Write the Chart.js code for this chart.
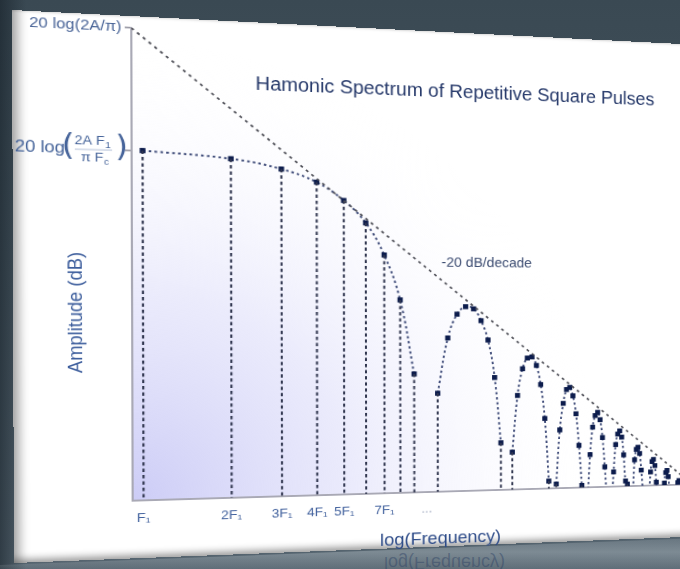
<!DOCTYPE html>
<html>
<head>
<meta charset="utf-8">
<script src="https://cdn.jsdelivr.net/npm/chart.js@4.4.1/dist/chart.umd.min.js"></script>
<style>
html,body{margin:0;padding:0;}
body{width:680px;height:569px;overflow:hidden;position:relative;
 background:
  linear-gradient(90deg, rgba(18,28,36,0.55) 0px, rgba(18,28,36,0) 26px),
  linear-gradient(180deg,#3a4953 0%,#45545e 45%,#566570 100%);
 font-family:"Liberation Sans",Arial,sans-serif;}
#underlay{position:absolute;left:0;top:0;width:680px;height:569px;background:#fff;
 clip-path:polygon(24px 18px,690px 52px,690px 526px,24px 552px);}
#reflBand{position:absolute;left:0;top:0;width:680px;height:569px;
 background:linear-gradient(180deg,rgba(200,210,216,0) 525px,rgba(200,210,216,0.35) 552px,rgba(200,210,216,0.08) 569px);
 clip-path:polygon(0px 565px,700px 538px,700px 569px,0px 569px);}
#reflText{position:absolute;left:384px;top:553px;font-size:18px;line-height:20px;color:rgba(45,65,100,0.45);transform:scaleY(-1);white-space:nowrap;}
#panel{position:absolute;left:0;top:0;width:688px;height:553px;transform-origin:0 0;background:#fff;
 box-shadow: inset 11px 0 9px -5px rgba(0,0,0,0.30), inset 0 -7px 7px -3px rgba(0,0,0,0.35), inset 0 2px 2px -1px rgba(0,0,0,0.12);}
#chart{position:absolute;left:0;top:0;}
.lbl{position:absolute;white-space:nowrap;text-align:center;}
#title{left:131px;width:600px;top:51px;line-height:24px;font-size:19.5px;color:#26396a;}
#slope{left:357px;width:200px;top:238px;line-height:18px;font-size:14.5px;color:#3d4d72;}
#xtitle{left:309px;width:200px;top:533px;line-height:22px;font-size:18.5px;color:#2d4b88;}
#ytitle{left:-44px;width:200px;top:291px;line-height:22px;font-size:18.5px;color:#3c5d9c;transform:rotate(-90deg);}
</style>
</head>
<body>
<div id="underlay"></div>
<div id="reflBand"></div>
<div id="reflText">log(Frequency)</div>
<div id="panel">
  <canvas id="chart" width="688" height="553"></canvas>
  <div class="lbl" id="title">Hamonic Spectrum of Repetitive Square Pulses</div>
  <div class="lbl" id="slope">-20 dB/decade</div>
  <div class="lbl" id="ytitle">Amplitude (dB)</div>
  <div class="lbl" id="xtitle">log(Frequency)</div>
</div>
<script>
// ---------------- data ----------------
// harmonic number of the first point of each lobe (multiples of F1)
const lobeStart = [1, 11, 21, 31, 41, 51, 61, 71, 81, 91];
// amplitude in dB relative to 20 log(2A/pi); values below the axis are hidden
const lobe1dB  = [-10.7, -11.2, -12.0, -13.1, -14.7, -16.7, -19.6, -23.7, -30.5];
const lobe2dB  = [-32.3, -27.2, -25.0, -24.3, -24.5, -25.6, -27.4, -30.9, -37.0];
const lobe3dB  = [-37.9, -32.6, -30.1, -29.1, -29.0, -29.8, -31.6, -34.8, -40.7];
const lobe4dB  = [-41.0, -35.9, -33.4, -32.1, -31.9, -32.7, -34.4, -37.4, -41.2];
const lobe5dB  = [-43.0, -38.3, -35.7, -34.6, -34.3, -35.0, -36.7, -39.5, -43.0];
const lobe6dB  = [-43.5, -40.0, -37.4, -36.4, -36.1, -36.7, -38.4, -40.9, -41.2];
const lobe7dB  = [-44.0, -42.0, -38.9, -37.9, -37.7, -38.3, -39.9, -42.0, -44.0];
const lobe8dB  = [-44.5, -42.5, -40.1, -39.1, -38.9, -39.5, -41.1, -42.5, -44.5];
const lobe9dB  = [-45.0, -43.0, -41.2, -40.2, -40.0, -40.6, -41.9, -43.0, -45.0];
const lobe10dB = [-45.5, -43.5, -42.0, -41.2, -41.0, -41.5, -42.5, -43.5, -45.5];
const lobes = [lobe1dB, lobe2dB, lobe3dB, lobe4dB, lobe5dB, lobe6dB, lobe7dB, lobe8dB, lobe9dB, lobe10dB];
// -20 dB/decade asymptote end points
const asymptoteFreq = [0.919, 108];
const asymptoteDb   = [0, -41.4];
// axes
const xTickValues = [1, 2, 3, 4, 5, 7, 10];
const xTickLabels = ['F\u2081', '2F\u2081', '3F\u2081', '4F\u2081', '5F\u2081', '7F\u2081', '...'];
const yTickValues = [0, -10.7];
const yTopLabel = '20 log(2A/\u03C0)';
const xRange = [0.919, 112];
const yRange = [-41.4, 0];

// ---------------- perspective of the panel ----------------
function quadTransform(w, h, q) {
  const [x0,y0]=q[0],[x1,y1]=q[1],[x2,y2]=q[2],[x3,y3]=q[3];
  const dx1=x1-x2, dx2=x3-x2, dx3=x0-x1+x2-x3;
  const dy1=y1-y2, dy2=y3-y2, dy3=y0-y1+y2-y3;
  const den=dx1*dy2-dx2*dy1;
  const g=(dx3*dy2-dx2*dy3)/den, hh=(dx1*dy3-dx3*dy1)/den;
  const a=x1-x0+g*x1, b=x3-x0+hh*x3, c=x0;
  const d=y1-y0+g*y1, e=y3-y0+hh*y3, f=y0;
  return `matrix3d(${a/w},${d/w},0,${g/w},${b/h},${e/h},0,${hh/h},0,0,1,0,${c},${f},0,1)`;
}
document.getElementById('panel').style.transform =
  quadTransform(688, 553, [[12,10],[700,45],[700,536.3],[14,563]]);

// ---------------- datasets ----------------
const datasets = [];
datasets.push({
  label: '-20 dB/decade',
  data: asymptoteFreq.map((f,i)=>({x:f, y:asymptoteDb[i]})),
  borderColor:'#505159', borderWidth:1.8, borderDash:[3,4], pointRadius:0, tension:0
});
const drops = [];
lobes.forEach((vals,k)=>{
  const idx = k===0 ? vals.map((_,i)=>i) : [0, vals.length-1];
  idx.forEach(i=>{
    const n = lobeStart[k]+i;
    drops.push({x:n, y:vals[i]}, {x:n, y:yRange[0]}, {x:n+0.001, y:null});
  });
});
datasets.push({
  label:'harmonic lines', data:drops, borderColor:'#30364f', borderWidth:2,
  borderDash:[3.5,3], pointRadius:0, pointHitRadius:0, tension:0, spanGaps:false
});
lobes.forEach((vals,k)=>{
  datasets.push({
    label:'Lobe '+(k+1),
    data: vals.map((v,i)=>({x:lobeStart[k]+i, y:v})),
    borderColor:'#404d7a', borderWidth:2, borderDash:[2.5,3], tension:0.4,
    pointStyle:'rect', pointRadius:3.8, pointBorderWidth:0,
    pointBackgroundColor:'#0c1c4c', pointBorderColor:'#0c1c4c'
  });
});

// ---------------- plugins ----------------
const plotShade = {
  id:'plotShade',
  beforeDraw(chart){
    const {ctx, chartArea:{left,top,right,bottom}} = chart;
    const g = ctx.createRadialGradient(left, bottom, 0, left, bottom, 470);
    g.addColorStop(0, 'rgba(204,204,246,1)');
    g.addColorStop(0.45, 'rgba(224,224,250,0.65)');
    g.addColorStop(1, 'rgba(255,255,255,0)');
    ctx.save(); ctx.fillStyle=g; ctx.fillRect(left,top,right-left,bottom-top); ctx.restore();
  }
};
function drawSub(ctx, main, sub, cx, y, size){
  ctx.font = size+'px "Liberation Sans", Arial, sans-serif';
  const wm = ctx.measureText(main).width;
  ctx.font = (size*0.7)+'px "Liberation Sans", Arial, sans-serif';
  const ws = ctx.measureText(sub).width;
  const x0 = cx - (wm+ws)/2;
  ctx.textAlign='left';
  ctx.font = size+'px "Liberation Sans", Arial, sans-serif';
  ctx.fillText(main, x0, y);
  ctx.font = (size*0.7)+'px "Liberation Sans", Arial, sans-serif';
  ctx.fillText(sub, x0+wm+0.5, y+size*0.3);
}
const fractionLabel = {
  id:'fractionLabel',
  afterDraw(chart){
    const ctx = chart.ctx;
    const y = chart.scales.y.getPixelForValue(yTickValues[1]);
    ctx.save();
    ctx.fillStyle='#46649a'; ctx.strokeStyle='#46649a';
    ctx.textBaseline='middle'; ctx.textAlign='left';
    ctx.font='16.5px "Liberation Sans", Arial, sans-serif';
    ctx.fillText('20 log', 2, y);
    ctx.font='30px "DejaVu Sans", sans-serif';
    ctx.fillText('(', 44, y-1);
    ctx.fillText(')', 93, y-1);
    drawSub(ctx, '2A F', '1', 72, y-8, 13);
    drawSub(ctx, '\u03C0 F', 'c', 74, y+9, 13);
    ctx.lineWidth=0.8; ctx.globalAlpha=0.5;
    ctx.beginPath(); ctx.moveTo(56,y+0.5); ctx.lineTo(90,y+0.5); ctx.stroke();
    ctx.restore();
  }
};

new Chart(document.getElementById('chart'), {
  type:'line',
  data:{datasets},
  options:{
    responsive:false, animation:false, devicePixelRatio:1,
    layout:{padding:{top:8,left:0,right:0,bottom:0}},
    plugins:{legend:{display:false}, tooltip:{enabled:false}, title:{display:false}},
    scales:{
      x:{
        type:'logarithmic', min:xRange[0], max:xRange[1],
        afterBuildTicks:s=>{ s.ticks = xTickValues.map(v=>({value:v})); },
        afterFit:s=>{ s.height = 59; },
        ticks:{ autoSkip:false, maxRotation:0, padding:10,
          font:{size:13.5, family:'"Liberation Sans", Arial, sans-serif'},
          color:c=> c.index===xTickLabels.length-1 ? '#9aa4bc' : '#3f5f9c',
          callback:(v,i)=>xTickLabels[i] },
        grid:{display:true, drawOnChartArea:false, drawTicks:false, color:'rgba(0,0,0,0)'},
        border:{display:true, color:'#a9a9b5', width:2},
        title:{display:false, text:'log(Frequency)'}
      },
      y:{
        type:'linear', min:yRange[0], max:yRange[1],
        afterBuildTicks:s=>{ s.ticks = yTickValues.map(v=>({value:v})); },
        afterFit:s=>{ s.width = 108; },
        ticks:{ padding:3, font:{size:15, family:'"Liberation Sans", Arial, sans-serif'}, color:'#4a6598',
          callback:(v,i)=> i===0 ? yTopLabel : '' },
        grid:{display:true, drawOnChartArea:false, drawTicks:true, tickLength:6, color:'#8c8c99', lineWidth:1.5},
        border:{display:true, color:'#a9a9b5', width:2},
        title:{display:false, text:'Amplitude (dB)'}
      }
    }
  },
  plugins:[plotShade, fractionLabel]
});
</script>
</body>
</html>
